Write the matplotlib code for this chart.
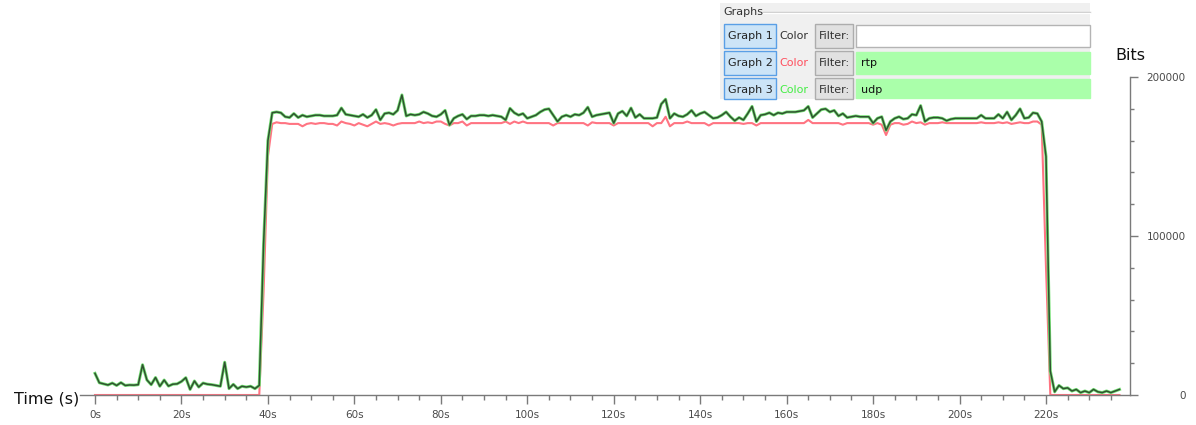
import numpy as np
import matplotlib.pyplot as plt
from matplotlib.patches import Rectangle
from matplotlib.ticker import MultipleLocator, FixedLocator

# bits per 1 s interval (in kbit)
udp_kbits = [13.6, 7.7, 7.0, 6.3, 7.5, 6.0, 7.8, 6.0, 6.3, 6.2,
             6.5, 19.0, 9.5, 6.5, 11.0, 5.5, 9.4, 5.6, 6.8, 7.0,
             8.5, 10.9, 3.5, 8.8, 5.0, 7.5, 6.8, 6.5, 6.0, 5.5,
             20.6, 4.0, 6.7, 4.0, 5.5, 5.0, 5.5, 4.0, 6.0, 95.0,
             160.0,
             177.5, 178, 177.5, 175, 174.5, 177, 174.5, 176, 175, 175.5,
             176, 176, 175.5, 175.5, 175.5, 176, 180.5, 176.5, 176, 175.5,
             175, 176.5, 174.5, 176, 179.5, 173, 177, 177.5, 176.5, 179,
             188.7, 175.5, 176.5,
             176, 176.5, 178, 177, 175.5, 175, 176.5, 179, 169.8, 174,
             175.5, 176.5, 173.5, 175.5, 175.5, 176, 176, 175.5, 176, 175.5,
             175, 173, 180.3, 177.5, 176, 177, 174, 175, 176, 178,
             179.5, 180, 176, 172, 175, 176, 175, 176.5, 176,
             177.5, 181, 175, 176, 176.5, 177, 177.5, 171, 177, 178.5,
             175.5, 180.5, 174.5, 176.5, 174, 174, 174, 174.5, 183, 186,
             174, 177, 175.5, 175, 176.5, 179, 175.5, 177, 178, 176,
             174, 174.5, 176, 178, 175, 172.5, 174.5,
             173, 177, 181.5, 172, 176, 176.5, 177.5, 176, 177.5, 177,
             178, 178, 178, 178.5, 179, 181.5, 174.5, 177, 179.5, 180,
             178, 179, 175.5, 177, 174.5, 175, 175.5, 175, 175, 175,
             171, 174, 175, 166.5, 172, 174, 175,
             173.5, 174, 176.5, 176, 182, 172, 174, 174.5, 174.5, 174,
             172.5, 173.5, 174, 174, 174, 174, 174, 174, 176, 174,
             174, 174, 176.5, 174, 178, 173, 176, 180, 174, 174.5,
             177.5, 177, 172,
             150.0, 15.0,
             2.0, 6.0, 4.0, 4.5, 2.5, 3.5, 1.5, 2.5, 1.5, 3.5,
             2.0, 1.5, 2.5, 1.5, 2.5, 3.5]

rtp_kbits = [0] * 39 + [65.0, 150.0] + \
            [170.5, 171.5, 171, 171, 170.5, 170.5, 170.5, 169, 170.5, 171,
             170.5, 171, 171, 170.5, 170.5, 169.5, 172, 171, 170.5, 169.5,
             171, 170, 169, 170.5, 172, 170.5, 171, 170.5, 169.5, 170.5,
             171, 171, 171,
             171, 172, 171, 171.5, 171, 172, 172, 170.5, 169.5, 171,
             171, 172, 169.5, 171, 171, 171, 171, 171, 171, 171,
             171, 172, 170.5, 172, 171, 172, 171, 171, 171, 171,
             171, 171, 169.5, 171, 171, 171, 171, 171, 171,
             171, 169.5, 171.5, 171, 171, 171, 171, 169.5, 171, 171,
             171, 171, 171, 171, 171, 171, 169, 171, 171, 175,
             169, 171, 171, 171, 172, 171, 171, 171, 171, 169.5,
             171, 171, 171, 171, 171, 171, 171,
             170.5, 171, 171, 169.5, 171, 171, 171, 171, 171, 171,
             171, 171, 171, 171, 171, 173, 171, 171, 171, 171,
             171, 171, 171, 170, 171, 171, 171, 171, 171, 171,
             170, 171, 170, 163.5, 170, 171, 171,
             170, 170.5, 172, 171, 171.5, 170, 171, 171, 171, 171.5,
             171, 171, 171, 171, 171, 171, 171, 171, 171.5, 171,
             171, 171, 171.5, 171, 171.5, 170.5, 171, 171.5, 171, 171,
             172, 172, 170] + [80.0] + [0] * 17

# Graph 1 has no filter; its trace sits right on top of udp
all_kbits = udp_kbits

graph_names = ['Graph 1', 'Graph 2', 'Graph 3']
graph_filters = ['', 'rtp', 'udp']
graph_colors = ['#333333', '#ff4f5e', '#44ee44']

x_ticks = np.arange(0, 221, 20)
x_tick_labels = [str(t) + 's' for t in x_ticks]
y_ticks = [0, 100000, 200000]

W, H = 1196, 425
fig = plt.figure(figsize=(W / 100, H / 100), dpi=100, facecolor='w')

# pixel layout of the plot area
x0_px, x_end_px, y0_px, ytop_px = 80, 1130, 395, 77
px_per_s = (1046 - 95) / 220.0
ax = fig.add_axes([x0_px / W, 1 - y0_px / H, (x_end_px - x0_px) / W, (y0_px - ytop_px) / H])
ax.set_xlim((x0_px - 95) / px_per_s, (x_end_px - 95) / px_per_s)
ax.set_ylim(0, 200000)

t = np.arange(len(udp_kbits))
ax.plot(t, np.array(rtp_kbits) * 1000, color='#ff7482', lw=1.5, clip_on=False, zorder=2)
ax.plot(t, np.array(udp_kbits) * 1000, color='#74e074', lw=2.2, zorder=3)
ax.plot(t, np.array(all_kbits) * 1000, color='#243824', lw=1.1, alpha=0.85, zorder=4)

axis_col = '#7a7a7a'
for s in ['left', 'top']:
    ax.spines[s].set_visible(False)
for s in ['bottom', 'right']:
    ax.spines[s].set_color(axis_col)
    ax.spines[s].set_linewidth(1.0)

ax.yaxis.tick_right()
ax.xaxis.set_major_locator(FixedLocator(x_ticks))
ax.xaxis.set_minor_locator(FixedLocator(np.arange(0, 236, 5)))
ax.set_xticklabels(x_tick_labels)
ax.yaxis.set_major_locator(FixedLocator(y_ticks))
ax.yaxis.set_minor_locator(MultipleLocator(20000))
ax.set_yticklabels([str(v) for v in y_ticks])

ax.tick_params(axis='x', which='major', length=6.5, width=1, color=axis_col,
               labelsize=7.5, labelcolor='#4a4a4a', pad=4)
ax.tick_params(axis='x', which='minor', length=3.5, width=1, color=axis_col)
ax.tick_params(axis='y', which='major', length=6, width=1, color=axis_col,
               labelsize=7.5, labelcolor='#4a4a4a', pad=34)
ax.tick_params(axis='y', which='minor', length=3, width=1, color=axis_col)
for lab in ax.get_yticklabels():
    lab.set_horizontalalignment('right')

fig.text(79 / W, 1 - 399 / H, 'Time (s)', ha='right', va='center', fontsize=11.5, color='#111111')
fig.text(1130 / W, 1 - 55 / H, 'Bits', ha='center', va='center', fontsize=11.5, color='#111111')


# the "Graphs" settings panel that overlaps the top right of the graph
def box(xa, ya, xb, yb, fc, ec='none', lw=1.0):
    fig.add_artist(Rectangle((xa / W, 1 - yb / H), (xb - xa) / W, (yb - ya) / H,
                             transform=fig.transFigure, facecolor=fc, edgecolor=ec,
                             linewidth=lw, zorder=10))


def label(x, y, s, **kw):
    fig.text(x / W, 1 - y / H, s, va='center', fontsize=8, zorder=11, **kw)


box(720, 3, 1090, 99, '#f0f0f0')
label(723, 12, 'Graphs', color='#333333')
fig.add_artist(plt.Line2D([763 / W, 1090 / W], [1 - 11.5 / H, 1 - 11.5 / H],
                          transform=fig.transFigure, color='#c8c8c8', lw=1, zorder=11))
fig.add_artist(plt.Line2D([763 / W, 1090 / W], [1 - 13 / H, 1 - 13 / H],
                          transform=fig.transFigure, color='#ffffff', lw=1, zorder=11))

for i in range(3):
    top = 24 + 27 * i
    bot = min(top + 24, 99)
    mid = top + 12
    box(724, top, 776, bot, '#cce4f7', '#5a9fe6')
    label(750, mid, graph_names[i], ha='center', color='#222222')
    label(779, mid, 'Color', color=graph_colors[i])
    box(815, top, 853, bot, '#e1e1e1', '#adadad')
    label(834, mid, 'Filter:', ha='center', color='#333333')
    fc = '#ffffff' if graph_filters[i] == '' else '#aaffaa'
    ec = '#b4b4b4' if graph_filters[i] == '' else '#aaffaa'
    box(856, top + 1, 1090, bot - 1, fc, ec)
    label(861, mid, graph_filters[i], color='#111111')

plt.savefig('out.png', dpi=100, facecolor='w')
